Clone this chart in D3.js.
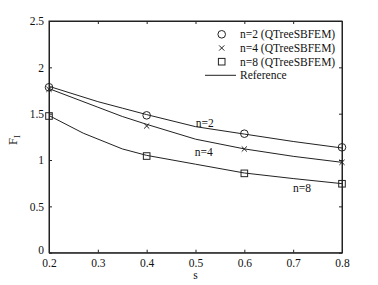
<!DOCTYPE html>
<html><head><meta charset="utf-8">
<script src="https://cdn.jsdelivr.net/npm/d3@7"></script>
<style>body{margin:0;background:#fff}svg{display:block}text{font-family:"Liberation Serif","Times New Roman",serif;fill:#111}</style>
</head><body><div id="chart"></div>
<script>
const markerS = [0.2, 0.4, 0.6, 0.8];
const qt2 = [1.785, 1.482, 1.284, 1.137];
const qt4 = [1.763, 1.367, 1.119, 0.975];
const qt8 = [1.475, 1.043, 0.856, 0.744];
const refS2 = [0.2, 0.3, 0.35, 0.4, 0.5, 0.6, 0.7, 0.8];
const ref2 = [1.795, 1.63, 1.56, 1.49, 1.36, 1.28, 1.20, 1.13];
const ref4 = [1.77, 1.57, 1.47, 1.385, 1.225, 1.12, 1.04, 0.975];
const refS8 = [0.2, 0.27, 0.35, 0.4, 0.5, 0.6, 0.7, 0.8];
const ref8 = [1.48, 1.29, 1.12, 1.05, 0.955, 0.86, 0.80, 0.745];
const xTicks = [0.2, 0.3, 0.4, 0.5, 0.6, 0.7, 0.8];
const yTicks = [0, 0.5, 1, 1.5, 2, 2.5];
const legendLabels = ["n=2 (QTreeSBFEM)", "n=4 (QTreeSBFEM)", "n=8 (QTreeSBFEM)", "Reference"];
const curveLabels = ["n=2", "n=4", "n=8"];

const W = 378, H = 285;
const m = {l: 49, t: 21, r: 342, b: 252.7};
const FS = "11.5px";
const svg = d3.select("#chart").append("svg").attr("width", W).attr("height", H);
const x = d3.scaleLinear().domain([0.2, 0.8]).range([m.l, m.r]);
const y = d3.scaleLinear().domain([0, 2.5]).range([m.b, m.t]);
const col = "#222";

// axes
const fmt = d => String(d);
svg.append("g").attr("transform", `translate(0,${m.b})`)
  .call(d3.axisBottom(x).tickValues(xTicks).tickFormat(fmt).tickSizeInner(-3).tickSizeOuter(0).tickPadding(6));
svg.append("g").attr("transform", `translate(0,${m.t})`)
  .call(d3.axisTop(x).tickValues(xTicks).tickFormat("").tickSizeInner(-3).tickSizeOuter(0));
const yAx = svg.append("g").attr("transform", `translate(${m.l},0)`)
  .call(d3.axisLeft(y).tickValues(yTicks).tickFormat(fmt).tickSizeInner(-3).tickSizeOuter(0).tickPadding(5));
yAx.selectAll(".tick text").filter(d => d === 0).attr("dy", "0.1em");
svg.append("g").attr("transform", `translate(${m.r},0)`)
  .call(d3.axisRight(y).tickValues(yTicks).tickFormat("").tickSizeInner(-3).tickSizeOuter(0));
svg.selectAll("g").attr("font-family", '"Liberation Serif",serif');
svg.selectAll(".domain, .tick line").attr("stroke", col).attr("stroke-width", 1);
svg.selectAll(".tick text").style("font-size", FS).attr("fill", "#111");
svg.append("rect").attr("x", m.l).attr("y", m.t).attr("width", m.r - m.l).attr("height", m.b - m.t)
  .attr("fill", "none").attr("stroke", col).attr("stroke-width", 1);

// reference lines
const line = d3.line().x(d => x(d[0])).y(d => y(d[1]));
[[refS2, ref2], [refS2, ref4], [refS8, ref8]].forEach(([s, v]) => {
  svg.append("path").datum(s.map((si, i) => [si, v[i]])).attr("d", line)
    .attr("fill", "none").attr("stroke", col).attr("stroke-width", 1);
});

// markers
function drawMarker(g, type, cx, cy) {
  if (type === 0) g.append("circle").attr("cx", cx).attr("cy", cy).attr("r", 3.8).attr("fill", "none").attr("stroke", col);
  else if (type === 1) {
    const s = 2.6;
    g.append("path").attr("d", `M${cx-s},${cy-s}L${cx+s},${cy+s}M${cx-s},${cy+s}L${cx+s},${cy-s}`).attr("stroke", col).attr("fill", "none");
  } else g.append("rect").attr("x", cx - 3.3).attr("y", cy - 3.3).attr("width", 6.6).attr("height", 6.6).attr("fill", "none").attr("stroke", col);
}
[qt2, qt4, qt8].forEach((vals, k) => {
  const g = svg.append("g");
  markerS.forEach((s, i) => drawMarker(g, k, x(s), y(vals[i])));
});

// curve labels
const lblPos = [[0.519, 1.40], [0.517, 1.09], [0.718, 0.695]];
curveLabels.forEach((t, i) => {
  svg.append("text").attr("x", x(lblPos[i][0])).attr("y", y(lblPos[i][1])).attr("text-anchor", "middle")
    .attr("dy", "0.35em").style("font-size", FS).text(t);
});

// legend
const lg = svg.append("g");
const ly = [34.3, 48, 61.7, 75.3];
legendLabels.forEach((t, i) => {
  if (i < 3) drawMarker(lg, i, 221.7, ly[i]);
  else lg.append("line").attr("x1", 205).attr("x2", 236).attr("y1", ly[i]).attr("y2", ly[i]).attr("stroke", col);
  lg.append("text").attr("x", 240).attr("y", ly[i]).attr("dy", "0.35em").style("font-size", FS).text(t);
});

// axis labels
svg.append("text").attr("x", (m.l + m.r) / 2).attr("y", 279).attr("text-anchor", "middle").style("font-size", FS).text("s");
const yl = svg.append("text").attr("transform", "translate(17,140) rotate(-90)").attr("text-anchor", "middle").style("font-size", "12.5px");
yl.append("tspan").text("F");
yl.append("tspan").attr("dy", "3").style("font-size", "8.5px").text("I");
</script></body></html>
